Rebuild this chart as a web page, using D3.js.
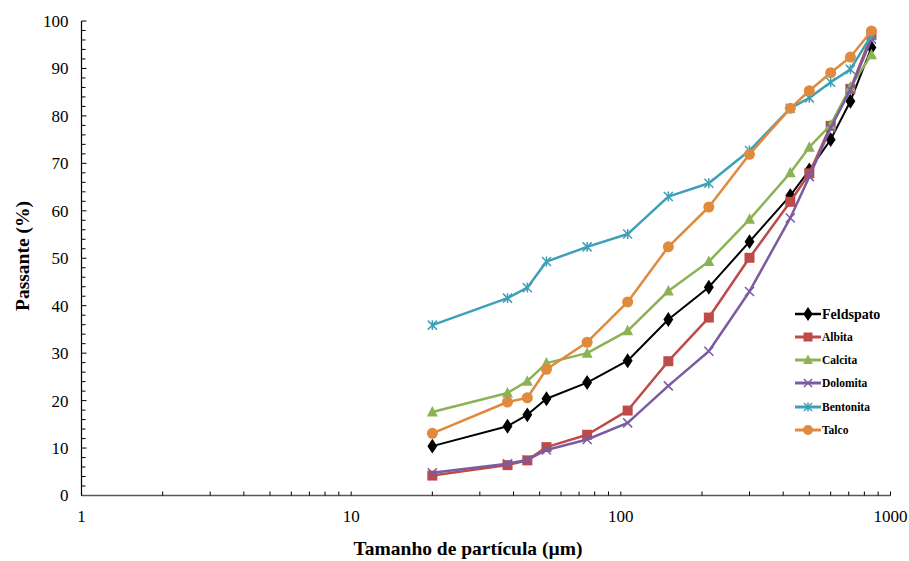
<!DOCTYPE html>
<html>
<head>
<meta charset="utf-8">
<script src="https://cdn.jsdelivr.net/npm/d3@7"></script>
<style>
  html, body { margin: 0; padding: 0; background: #fff; }
  svg text { font-family: "Liberation Serif", "Times New Roman", serif; }
</style>
</head>
<body>
<svg id="chart" width="909" height="561"></svg>
<script>
// Sieve openings (µm)
const sizes = [20, 38, 45, 53, 75, 106, 150, 212, 300, 425, 500, 600, 710, 850];

// Cumulative passing (%) per mineral
const feldspato = [10.4, 14.6, 17.0, 20.4, 23.8, 28.4, 37.1, 43.9, 53.5, 63.2, 68.6, 75.0, 83.1, 94.4];
const albita    = [4.2, 6.4, 7.4, 10.2, 12.8, 17.9, 28.3, 37.5, 50.1, 61.9, 67.9, 77.9, 85.7, 97.0];
const calcita   = [17.6, 21.6, 24.1, 27.9, 30.0, 34.7, 43.1, 49.3, 58.2, 68.0, 73.4, 78.1, 86.1, 92.9];
const dolomita  = [4.8, 6.7, 7.5, 9.6, 11.8, 15.3, 23.1, 30.4, 43.0, 58.5, 67.2, 77.5, 85.5, 96.2];
const bentonita = [35.9, 41.6, 43.8, 49.3, 52.4, 55.1, 63.0, 65.8, 72.7, 81.6, 83.8, 87.1, 89.8, 97.0];
const talco     = [13.1, 19.7, 20.6, 26.6, 32.3, 40.8, 52.4, 60.8, 71.9, 81.6, 85.3, 89.1, 92.4, 97.9];

const seriesNames = ["Feldspato", "Albita", "Calcita", "Dolomita", "Bentonita", "Talco"];
const seriesValues = [feldspato, albita, calcita, dolomita, bentonita, talco];

const xTicks = [1, 10, 100, 1000];
const yTicks = [0, 10, 20, 30, 40, 50, 60, 70, 80, 90, 100];

const xTitle = "Tamanho de partícula (µm)";
const yTitle = "Passante (%)";

// Styling for each series
const styles = [
  { color: "#000000", marker: "diamond",  width: 2.0 },
  { color: "#BE4B48", marker: "square",   width: 2.5 },
  { color: "#8DB255", marker: "triangle", width: 2.5 },
  { color: "#7B5BA1", marker: "cross",    width: 2.5 },
  { color: "#3F9FB8", marker: "star",     width: 2.5 },
  { color: "#E08A3E", marker: "circle",   width: 2.5 }
];

const svg = d3.select("#chart");
const plotLeft = 81.5, plotRight = 890.5, plotTop = 21, plotBottom = 495.5;

const x = d3.scaleLog().domain([1, 1000]).range([plotLeft, plotRight]);
const y = d3.scaleLinear().domain([0, 100]).range([plotBottom, plotTop]);

// Y axis: line, inward ticks every 2 %, labels every 10 %
const yAxis = svg.append("g").attr("transform", `translate(${plotLeft},0)`);
yAxis.append("line").attr("x1", 0).attr("x2", 0).attr("y1", y(0)).attr("y2", y(100))
  .attr("stroke", "#000").attr("stroke-width", 1.2);
d3.range(0, 101, 2).forEach(v => {
  const major = v % 10 === 0;
  yAxis.append("line").attr("x1", 0).attr("x2", major ? 5 : 4)
    .attr("y1", y(v)).attr("y2", y(v)).attr("stroke", "#000").attr("stroke-width", 1);
});
yAxis.selectAll("text.tick").data(yTicks).enter().append("text")
  .attr("x", -13).attr("y", d => y(d)).attr("dy", "0.35em")
  .attr("text-anchor", "end").attr("font-size", 17).attr("fill", "#000")
  .text(d => d);

// X axis: log scale with inward minor ticks
const xAxis = svg.append("g");
xAxis.append("line").attr("x1", x(1)).attr("x2", x(1000)).attr("y1", plotBottom).attr("y2", plotBottom)
  .attr("stroke", "#595959").attr("stroke-width", 1.5);
const minor = [];
[1, 10, 100].forEach(d => { for (let k = 1; k <= 10; k++) minor.push(d * k); });
Array.from(new Set(minor)).forEach(v => {
  xAxis.append("line").attr("x1", x(v)).attr("x2", x(v))
    .attr("y1", plotBottom).attr("y2", plotBottom - 4).attr("stroke", "#000").attr("stroke-width", 1);
});
xAxis.selectAll("text.tick").data(xTicks).enter().append("text")
  .attr("x", d => x(d)).attr("y", 522)
  .attr("text-anchor", "middle").attr("font-size", 17).attr("fill", "#000")
  .text(d => d);

// Axis titles
svg.append("text").attr("x", 468).attr("y", 555)
  .attr("text-anchor", "middle").attr("font-size", 19.5).attr("font-weight", "bold")
  .text(xTitle);
svg.append("text").attr("transform", "translate(29,256) rotate(-90)")
  .attr("text-anchor", "middle").attr("font-size", 19.5).attr("font-weight", "bold")
  .text(yTitle);

// Marker drawing
function drawMarker(g, type, color, cx, cy, scale) {
  const s = scale || 1;
  if (type === "diamond") {
    g.append("path").attr("d", d3.symbol(d3.symbolDiamond, 64 * s)()).attr("transform", `translate(${cx},${cy}) scale(1.15,1)`)
      .attr("fill", color);
  } else if (type === "square") {
    g.append("rect").attr("x", cx - 5 * s).attr("y", cy - 5 * s).attr("width", 10 * s).attr("height", 10 * s)
      .attr("fill", color);
  } else if (type === "triangle") {
    const h = 10 * s, w = 11 * s;
    g.append("path").attr("d", `M${cx},${cy - h * 0.6}L${cx + w / 2},${cy + h * 0.45}L${cx - w / 2},${cy + h * 0.45}Z`)
      .attr("fill", color);
  } else if (type === "circle") {
    g.append("circle").attr("cx", cx).attr("cy", cy).attr("r", 5.5 * s).attr("fill", color);
  } else if (type === "cross") {
    const r = 4.5 * s;
    g.append("path").attr("d", `M${cx - r},${cy - r}L${cx + r},${cy + r}M${cx - r},${cy + r}L${cx + r},${cy - r}`)
      .attr("stroke", color).attr("stroke-width", 1.5);
  } else if (type === "star") {
    const r = 4.5 * s;
    g.append("path").attr("d",
      `M${cx - r},${cy - r}L${cx + r},${cy + r}M${cx - r},${cy + r}L${cx + r},${cy - r}M${cx},${cy - r * 1.1}L${cx},${cy + r * 1.1}`)
      .attr("stroke", color).attr("stroke-width", 1.5);
  }
}

const line = d3.line().x(d => x(d[0])).y(d => y(d[1]));
const plot = svg.append("g");
seriesValues.forEach((vals, i) => {
  const st = styles[i];
  const pts = sizes.map((s, j) => [s, vals[j]]);
  const g = plot.append("g");
  g.append("path").datum(pts).attr("d", line).attr("fill", "none")
    .attr("stroke", st.color).attr("stroke-width", st.width).attr("stroke-linejoin", "round");
  pts.forEach(p => drawMarker(g, st.marker, st.color, x(p[0]), y(p[1])));
});

// Legend
const legend = svg.append("g");
const legendY = [314, 337, 360, 383, 407, 430];
seriesNames.forEach((name, i) => {
  const st = styles[i];
  const ly = legendY[i];
  legend.append("line").attr("x1", 795).attr("x2", 821).attr("y1", ly).attr("y2", ly)
    .attr("stroke", st.color).attr("stroke-width", st.width + 0.5);
  drawMarker(legend, st.marker, st.color, 808, ly, 0.9);
  legend.append("text").attr("x", 822).attr("y", ly).attr("dy", "0.35em")
    .attr("font-size", i === 0 ? 14 : 11.5).attr("font-weight", "bold").attr("fill", "#000")
    .text(name);
});
</script>
</body>
</html>
